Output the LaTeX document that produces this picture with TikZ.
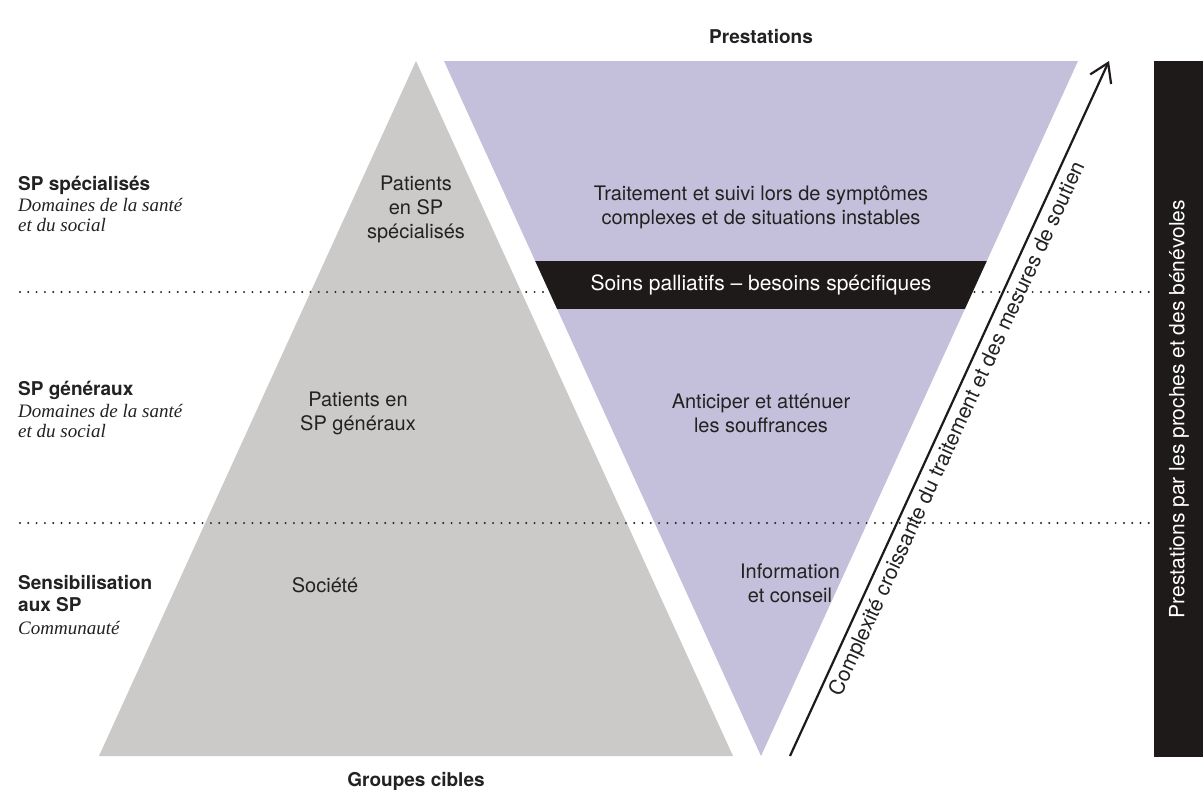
\documentclass[tikz,border=0pt]{standalone}
\usepackage{fontspec}
\setmainfont{TeX Gyre Heros}
\newfontfamily\itserif{Liberation Serif}
\usetikzlibrary{arrows.meta}
\definecolor{tgray}{HTML}{CBCAC8}
\definecolor{tpurple}{HTML}{C4C0DB}
\definecolor{tblack}{HTML}{1E1A1A}
\definecolor{ttext}{HTML}{222222}
\begin{document}
\begin{tikzpicture}[x=1pt,y=-1pt,
  txt/.style={font=\fontsize{20}{24}\selectfont, text=ttext, align=center, inner sep=0pt},
  wtxt/.style={font=\fontsize{21}{24}\selectfont, text=white, align=center, inner sep=0pt},
  arrtxt/.style={font=\fontsize{21}{24}\selectfont, text=ttext, inner sep=0pt},
  sidebf/.style={font=\bfseries\fontsize{19}{22}\selectfont, text=ttext, anchor=base west, inner sep=0pt},
  sideit/.style={font=\itserif\itshape\fontsize{19}{22}\selectfont, text=ttext, anchor=base west, inner sep=0pt},
  head/.style={font=\bfseries\fontsize{19}{22}\selectfont, text=ttext, inner sep=0pt},
  dotline/.style={line width=2.2pt, line cap=round, dash pattern=on 0pt off 8.3pt, color=ttext},
  arrowline/.style={line width=2.2pt, color=tblack, -{Straight Barb[length=18pt,width=23pt,line width=2.2pt]}},
]
\useasboundingbox (0,0) rectangle (1203,790);
\fill[white] (0,0) rectangle (1203,790);
% triangles
\fill[tgray] (416,61) -- (733,756) -- (99,756) -- cycle;
\fill[tpurple] (444,61) -- (1078,61) -- (761,756) -- cycle;
% dotted level lines
\draw[dotline] (20,292) -- (1150,292);
\draw[dotline] (20,523) -- (1150,523);
% black band inside purple triangle
\begin{scope}
  \clip (444,61) -- (1078,61) -- (761,756) -- cycle;
  \fill[tblack] (430,261) rectangle (1090,309);
\end{scope}
% right bar
\fill[tblack] (1154,61) rectangle (1203,757);

% headings
\node[head] (prest) at (761,37) {Prestations};
\node[head] (groupes) at (416,781) {Groupes cibles};

% left labels
\node[sidebf] (l1a) at (18,190) {SP spécialisés};
\node[sideit] (l1b) at (18,211) {Domaines de la santé};
\node[sideit] (l1c) at (18,231) {et du social};
\node[sidebf] (l2a) at (18,395) {SP généraux};
\node[sideit] (l2b) at (18,417) {Domaines de la santé};
\node[sideit] (l2c) at (18,437) {et du social};
\node[sidebf] (l3a) at (18,589) {Sensibilisation};
\node[sidebf] (l3b) at (18,611) {aux SP};
\node[sideit] (l3c) at (18,634) {Communauté};

% gray triangle texts
\node[txt] (g1) at (416,209) {Patients\\en SP\\spécialisés};
\node[txt] (g2) at (358,413) {Patients en\\SP généraux};
\node[txt] (g3) at (325,585) {Société};

% purple triangle texts
\node[txt] (p1) at (761,207) {Traitement et suivi lors de symptômes\\complexes et de situations instables};
\node[wtxt] (p2) at (761,285) {Soins palliatifs – besoins spécifiques};
\node[txt] (p3) at (761,413) {Anticiper et atténuer\\les souffrances};
\node[txt] (p4) at (790,583) {Information\\et conseil};

% arrow
\coordinate (aS) at (790,756);
\coordinate (aE) at (1109,61);
\draw[arrowline] (aS) -- (aE) node[arrtxt, pos=0.48, sloped, below=5pt] (alabel) {Complexité croissante du traitement et des mesures de soutien};

% right bar label
\node[wtxt, rotate=90] (rlabel) at (1179,409) {Prestations par les proches et des bénévoles};
\end{tikzpicture}
\end{document}
